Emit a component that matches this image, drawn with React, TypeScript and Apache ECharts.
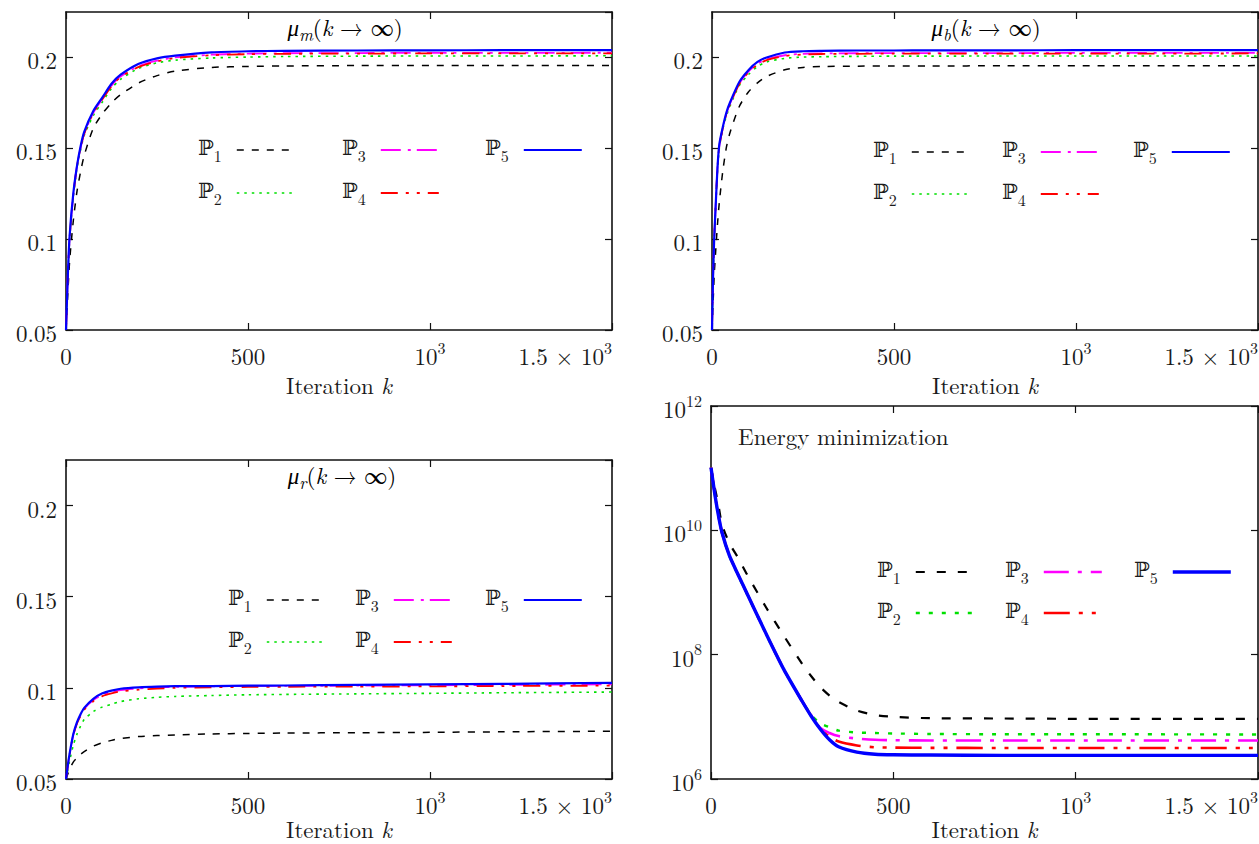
import React, { useEffect, useRef } from 'react';
import * as echarts from 'echarts';

// ---------------- data ----------------
const NAMES = ['ℙ1', 'ℙ2', 'ℙ3', 'ℙ4', 'ℙ5'];
const COLORS = ['#000000', '#00e000', '#ff00ff', '#ff0000', '#0000ff'];

// panel 1: mu_m
const X_MU_M = [0, 5, 10, 20, 30, 40, 50, 75, 100, 125, 150, 200, 250, 300, 400, 500, 600, 800, 1000, 1200, 1500];
const MU_M_P1 = [0.05, 0.07, 0.088, 0.11, 0.126, 0.137, 0.146, 0.161, 0.169, 0.175, 0.1795, 0.186, 0.19, 0.1925, 0.1945, 0.195, 0.1953, 0.1955, 0.1955, 0.1956, 0.1956];
const MU_M_P2 = [0.05, 0.079, 0.1, 0.123, 0.139, 0.149, 0.157, 0.168, 0.1755, 0.183, 0.188, 0.194, 0.197, 0.1985, 0.1997, 0.2002, 0.2005, 0.2007, 0.2008, 0.2008, 0.2009];
const MU_M_P3 = [0.05, 0.08, 0.101, 0.124, 0.14, 0.15, 0.158, 0.1695, 0.1772, 0.1845, 0.1895, 0.1952, 0.1982, 0.2, 0.2015, 0.2021, 0.2023, 0.2024, 0.2025, 0.2025, 0.2026];
const MU_M_P4 = [0.05, 0.08, 0.101, 0.124, 0.14, 0.15, 0.158, 0.1693, 0.177, 0.1842, 0.1892, 0.1948, 0.1978, 0.1997, 0.2012, 0.2018, 0.202, 0.2021, 0.2022, 0.2022, 0.2022];
const MU_M_P5 = [0.05, 0.08, 0.102, 0.125, 0.14, 0.151, 0.159, 0.1705, 0.178, 0.1855, 0.1905, 0.1965, 0.1995, 0.201, 0.2028, 0.2034, 0.2036, 0.2038, 0.2039, 0.204, 0.204];

// panel 2: mu_b
const X_MU_B = [0, 3, 6, 10, 15, 20, 30, 40, 50, 75, 100, 125, 150, 200, 250, 300, 400, 500, 600, 800, 1000, 1200, 1500];
const MU_B_P1 = [0.05, 0.065, 0.08, 0.093, 0.108, 0.12, 0.138, 0.151, 0.159, 0.173, 0.181, 0.186, 0.1895, 0.1932, 0.1945, 0.195, 0.1952, 0.1953, 0.1953, 0.1954, 0.1954, 0.1954, 0.1955];
const MU_B_P2 = [0.05, 0.079, 0.099, 0.117, 0.137, 0.15, 0.161, 0.168, 0.1735, 0.1845, 0.1905, 0.195, 0.1975, 0.1995, 0.2002, 0.2004, 0.2006, 0.2007, 0.2007, 0.2008, 0.2008, 0.2008, 0.2008];
const MU_B_P3 = [0.05, 0.08, 0.1, 0.118, 0.139, 0.151, 0.1615, 0.1693, 0.1748, 0.1857, 0.1922, 0.1965, 0.199, 0.2012, 0.202, 0.2022, 0.2023, 0.2024, 0.2024, 0.2024, 0.2025, 0.2025, 0.2025];
const MU_B_P4 = [0.05, 0.08, 0.1, 0.118, 0.139, 0.151, 0.1613, 0.169, 0.1745, 0.1853, 0.1918, 0.196, 0.1985, 0.2008, 0.2016, 0.2019, 0.202, 0.2021, 0.2021, 0.2021, 0.2021, 0.2021, 0.2022];
const MU_B_P5 = [0.05, 0.08, 0.1, 0.118, 0.139, 0.152, 0.162, 0.17, 0.1755, 0.1865, 0.193, 0.1975, 0.2, 0.2027, 0.2034, 0.2036, 0.2038, 0.2038, 0.2039, 0.2039, 0.204, 0.204, 0.204];

// panel 3: mu_r
const X_MU_R = [0, 5, 10, 20, 30, 40, 50, 75, 100, 125, 150, 200, 250, 300, 400, 500, 600, 800, 1000, 1200, 1500];
const MU_R_P1 = [0.05, 0.0528, 0.0555, 0.0593, 0.0615, 0.0635, 0.065, 0.068, 0.0699, 0.0712, 0.0722, 0.0733, 0.0738, 0.0742, 0.0747, 0.075, 0.0752, 0.0754, 0.0756, 0.0759, 0.0762];
const MU_R_P2 = [0.05, 0.055, 0.06, 0.0685, 0.0745, 0.079, 0.0826, 0.087, 0.0895, 0.091, 0.0925, 0.094, 0.0948, 0.0953, 0.0958, 0.0962, 0.0964, 0.0967, 0.097, 0.0973, 0.0977];
const MU_R_P3 = [0.05, 0.0573, 0.0637, 0.0742, 0.0806, 0.085, 0.0885, 0.0933, 0.0962, 0.0977, 0.0987, 0.0997, 0.1002, 0.1005, 0.1008, 0.101, 0.1011, 0.1012, 0.1014, 0.1016, 0.1019];
const MU_R_P4 = [0.05, 0.0572, 0.0635, 0.074, 0.0803, 0.0846, 0.088, 0.0927, 0.0955, 0.097, 0.098, 0.099, 0.0996, 0.1, 0.1003, 0.1005, 0.1006, 0.1007, 0.1008, 0.101, 0.1012];
const MU_R_P5 = [0.05, 0.0575, 0.064, 0.0745, 0.081, 0.0855, 0.089, 0.094, 0.097, 0.0985, 0.0995, 0.1003, 0.1007, 0.1009, 0.101, 0.1012, 0.1013, 0.1016, 0.1019, 0.1022, 0.1027];

// panel 4: energy
const X_ENERGY = [0, 10, 20, 30, 50, 75, 100, 150, 200, 250, 275, 300, 325, 350, 400, 450, 500, 600, 800, 1000, 1500];
const ENERGY_P1 = [1.02e11, 5.0e10, 2.63e10, 1.26e10, 6.3e9, 3.55e9, 1.9e9, 5.9e8, 2.0e8, 7.1e7, 4.5e7, 3.0e7, 2.2e7, 1.74e7, 1.26e7, 1.07e7, 1.0e7, 9.5e6, 9.4e6, 9.3e6, 9.3e6];
const ENERGY_P2 = [1.02e11, 3.9e10, 1.75e10, 9.1e9, 3.9e9, 1.85e9, 9.1e8, 2.2e8, 5.7e7, 1.8e7, 1.07e7, 7.9e6, 6.8e6, 6.0e6, 5.6e6, 5.5e6, 5.4e6, 5.3e6, 5.25e6, 5.25e6, 5.2e6];
const ENERGY_P3 = [1.02e11, 4.0e10, 1.78e10, 9.3e9, 3.98e9, 1.9e9, 9.3e8, 2.24e8, 5.75e7, 1.78e7, 1.05e7, 6.6e6, 5.5e6, 4.9e6, 4.47e6, 4.27e6, 4.2e6, 4.17e6, 4.17e6, 4.17e6, 4.17e6];
const ENERGY_P4 = [1.02e11, 4.0e10, 1.78e10, 9.3e9, 3.98e9, 1.9e9, 9.3e8, 2.24e8, 5.75e7, 1.78e7, 1.03e7, 6.4e6, 4.8e6, 4.0e6, 3.47e6, 3.24e6, 3.2e6, 3.17e6, 3.16e6, 3.16e6, 3.16e6];
const ENERGY_P5 = [1.02e11, 4.0e10, 1.78e10, 9.3e9, 3.98e9, 1.9e9, 9.3e8, 2.24e8, 5.75e7, 1.78e7, 1.02e7, 6.3e6, 4.27e6, 3.3e6, 2.7e6, 2.5e6, 2.45e6, 2.43e6, 2.4e6, 2.4e6, 2.4e6];

const X_TICKS = [0, 500, 1000, 1500];
const MU_TICKS = [0.05, 0.1, 0.15, 0.2];
const ENERGY_EXPONENTS = [6, 8, 10, 12];

// ---------------- styling ----------------
const FONT = 'Latin Modern Roman';
const BBFONT = 'DejaVu Serif';
const TXT = '#1a1a1a';
const AXIS_COLOR = '#111';
const FS = 23;
const FS_SMALL = 16;

const DASH_THIN: any[] = [[7, 8], [2.5, 5], [20, 7, 3, 6], [17, 8, 3, 8, 3, 8], 'solid'];
const WIDTH_THIN = [1.5, 1.6, 1.8, 1.8, 2.2];
const DASH_BOLD: any[] = [[9, 12], [4, 9], [25, 9, 4, 9], [26, 9, 4, 9, 4, 9], 'solid'];
const WIDTH_BOLD = [2.2, 2.4, 2.6, 2.6, 3.4];

const RICH: any = {
  n: { fontFamily: FONT, fontSize: FS, color: TXT, lineHeight: 28, verticalAlign: 'bottom' },
  sup: { fontFamily: FONT, fontSize: FS_SMALL, color: TXT, lineHeight: 16, verticalAlign: 'top' },
  nm: { fontFamily: FONT, fontSize: FS, color: TXT, lineHeight: 22 },
  nmi: { fontFamily: FONT, fontSize: FS, fontStyle: 'italic', color: TXT, lineHeight: 22 },
  t: { fontFamily: FONT, fontSize: FS, color: TXT, lineHeight: 26, verticalAlign: 'top' },
  ti: { fontFamily: FONT, fontSize: FS, fontStyle: 'italic', color: TXT, lineHeight: 26, verticalAlign: 'top' },
  bb: { fontFamily: BBFONT, fontSize: 21, color: TXT, lineHeight: 26, verticalAlign: 'top' },
  sub: { fontFamily: FONT, fontSize: FS_SMALL, color: TXT, lineHeight: 16, padding: [10, 0, 0, 0], verticalAlign: 'top' },
  subi: { fontFamily: FONT, fontSize: 17, fontStyle: 'italic', color: TXT, lineHeight: 16, padding: [10, 0, 0, 0], verticalAlign: 'top' },
};

const GRIDS = [
  { left: 66, top: 12, width: 546, height: 318 },
  { left: 712, top: 12, width: 546, height: 318 },
  { left: 66, top: 460, width: 546, height: 319 },
  { left: 711, top: 406, width: 547, height: 373 },
];

const PANELS = [
  { xs: X_MU_M, ys: [MU_M_P1, MU_M_P2, MU_M_P3, MU_M_P4, MU_M_P5], log: false, bold: false },
  { xs: X_MU_B, ys: [MU_B_P1, MU_B_P2, MU_B_P3, MU_B_P4, MU_B_P5], log: false, bold: false },
  { xs: X_MU_R, ys: [MU_R_P1, MU_R_P2, MU_R_P3, MU_R_P4, MU_R_P5], log: false, bold: false },
  { xs: X_ENERGY, ys: [ENERGY_P1, ENERGY_P2, ENERGY_P3, ENERGY_P4, ENERGY_P5], log: true, bold: true },
];

// legend layout per panel: text-left x of each column, first row centre y, row pitch
const LEGEND_POS = [
  { cols: [198, 342, 485], y: 150, pitch: 43 },
  { cols: [873, 1002, 1133], y: 152, pitch: 42 },
  { cols: [228, 355, 485], y: 600, pitch: 42 },
  { cols: [877, 1005, 1134], y: 572, pitch: 41 },
];
const LEGEND_COLUMNS = [[0, 1], [2, 3], [4]];

function xLabel(v: number): string {
  if (v === 0) return '{n|0}';
  if (v === 500) return '{n|500}';
  if (v === 1000) return '{n|10}{sup|3}';
  if (v === 1500) return '{n|1.5 × 10}{sup|3}';
  return '';
}

function muLabel(v: number): string {
  const r = Number(v.toFixed(3));
  return MU_TICKS.indexOf(r) >= 0 ? '{n|' + String(r) + '}' : '';
}

function logLabel(v: number): string {
  const e = Math.round(Math.log10(v));
  return ENERGY_EXPONENTS.indexOf(e) >= 0 ? '{n|10}{sup|' + e + '}' : '';
}

function buildOption(): any {
  const xAxis: any[] = [];
  const yAxis: any[] = [];
  const series: any[] = [];
  const legend: any[] = [];

  const lineAxis = { show: true, onZero: false, lineStyle: { color: AXIS_COLOR, width: 1.6 } };
  const tick = { show: true, inside: true, length: 7, lineStyle: { color: AXIS_COLOR, width: 1.2 } };

  PANELS.forEach((p, i) => {
    const xBase = {
      type: 'value', gridIndex: i, min: 0, max: X_TICKS[X_TICKS.length - 1], interval: 500,
      axisLine: lineAxis, axisTick: tick, splitLine: { show: false },
    };
    xAxis.push({
      ...xBase, position: 'bottom',
      axisLabel: {
        margin: 9, formatter: xLabel, rich: RICH, fontFamily: FONT, fontSize: FS, color: TXT,
        hideOverlap: false, alignMaxLabel: 'right',
      },
      name: '{nm|Iteration }{nmi|k}', nameLocation: 'middle', nameGap: i >= 2 ? 38 : 43,
      nameTextStyle: { rich: RICH, fontFamily: FONT, fontSize: FS, color: TXT },
    });
    xAxis.push({ ...xBase, position: 'top', axisLabel: { show: false } });

    const yBase: any = p.log
      ? { type: 'log', logBase: 10, min: 1e6, max: 1e12, interval: 2 }
      : { type: 'value', min: 0.05, max: 0.225, interval: 0.05 };
    yAxis.push({
      ...yBase, gridIndex: i, position: 'left', axisLine: lineAxis, axisTick: tick, splitLine: { show: false },
      axisLabel: {
        margin: 9, formatter: p.log ? logLabel : muLabel, rich: RICH, fontFamily: FONT, fontSize: FS, color: TXT,
        showMaxLabel: p.log ? true : false,
      },
    });
    yAxis.push({
      ...yBase, gridIndex: i, position: 'right', axisLine: lineAxis, axisTick: tick, splitLine: { show: false },
      axisLabel: { show: false },
    });

    const dashes = p.bold ? DASH_BOLD : DASH_THIN;
    const widths = p.bold ? WIDTH_BOLD : WIDTH_THIN;
    p.ys.forEach((ys, k) => {
      series.push({
        type: 'line', name: NAMES[k], xAxisIndex: 2 * i, yAxisIndex: 2 * i,
        data: p.xs.map((x, j) => [x, ys[j]]),
        showSymbol: false, symbol: 'none', smooth: 0.25, clip: true,
        lineStyle: { color: COLORS[k], width: widths[k], type: dashes[k], cap: 'butt', join: 'round' },
        itemStyle: { color: COLORS[k] },
        emphasis: { disabled: true },
        z: 2 + k,
      });
    });

    const lp = LEGEND_POS[i];
    LEGEND_COLUMNS.forEach((col, c) => {
      legend.push({
        orient: 'vertical', left: lp.cols[c], top: lp.y - 13, padding: 0,
        itemGap: lp.pitch - 26, itemWidth: 58, itemHeight: 14, align: 'right',
        selectedMode: false,
        itemStyle: { opacity: 0 },
        data: col.map((k) => ({
          name: NAMES[k],
          itemStyle: { opacity: 0 },
          lineStyle: { color: COLORS[k], width: widths[k], type: dashes[k], cap: 'butt' },
        })),
        formatter: (name: string) => '{bb|ℙ}{sub|' + name.slice(1) + '}',
        textStyle: { rich: RICH, fontFamily: FONT, fontSize: FS, color: TXT, padding: [0, 10, 0, 0] },
      });
    });
  });

  const graphic = [
    { type: 'text', x: 345, y: 28, style: { text: '{ti|μ}{subi|m}{t|(}{ti|k}{t| → ∞)}', rich: RICH, align: 'center', verticalAlign: 'middle' } },
    { type: 'text', x: 986, y: 28, style: { text: '{ti|μ}{subi|b}{t|(}{ti|k}{t| → ∞)}', rich: RICH, align: 'center', verticalAlign: 'middle' } },
    { type: 'text', x: 342, y: 476, style: { text: '{ti|μ}{subi|r}{t|(}{ti|k}{t| → ∞)}', rich: RICH, align: 'center', verticalAlign: 'middle' } },
    { type: 'text', x: 738, y: 435, style: { text: 'Energy minimization', fontFamily: FONT, fontSize: FS, fill: TXT, align: 'left', verticalAlign: 'middle' } },
  ];

  return {
    animation: false,
    backgroundColor: '#ffffff',
    grid: GRIDS.map((g) => ({ ...g, containLabel: false, outerBoundsMode: 'none' })),
    xAxis, yAxis, series, legend, graphic,
  };
}

export default function App() {
  const ref = useRef<HTMLDivElement>(null);
  useEffect(() => {
    document.body.style.margin = '0';
    if (!ref.current) return;
    const chart = echarts.init(ref.current, undefined, { renderer: 'svg' });
    chart.setOption(buildOption());
    return () => chart.dispose();
  }, []);
  return <div ref={ref} style={{ position: 'absolute', left: 0, top: 0, width: 1259, height: 844 }} />;
}
